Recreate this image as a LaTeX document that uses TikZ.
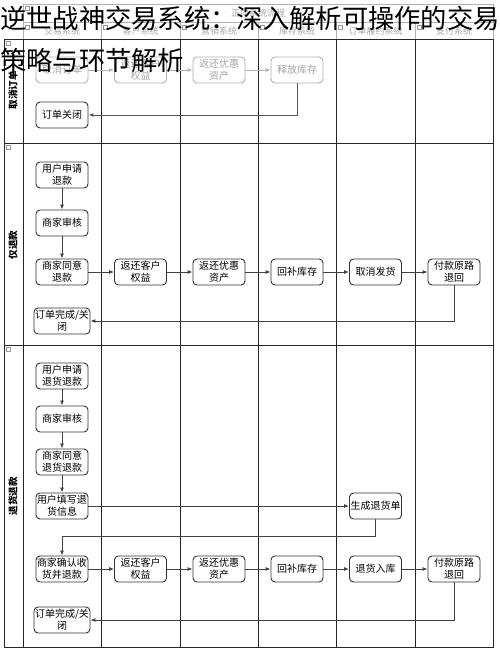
\documentclass[tikz,border=0pt]{standalone}
\usepackage{fontspec}
\setmainfont{Noto Sans CJK SC}
\usetikzlibrary{arrows.meta}
\begin{document}
\begin{tikzpicture}[x=1pt,y=-1pt,
  box/.style={draw=black!80, line width=0.9pt, rounded corners=4pt, minimum width=52pt, minimum height=26pt, align=center, font=\fontsize{10}{12}\selectfont, inner sep=1pt, fill=white},
  fbox/.style={box, draw=black!30, text=black!35},
  arr/.style={draw=black!75, line width=0.9pt, -{Latex[length=5pt,width=4pt]}},
  farr/.style={arr, draw=black!30},
  gridline/.style={draw=black!85, line width=0.9pt},
  fgrid/.style={draw=black!30, line width=0.8pt},
  lanelabel/.style={rotate=90, font=\fontsize{9.5}{11}\selectfont\bfseries},
  hdr/.style={font=\fontsize{9}{11}\selectfont, text=black!35},
  icon/.style={draw=black!40, line width=0.4pt, minimum size=4pt, inner sep=0pt}
]
\useasboundingbox (0,0) rectangle (500,654);
\fill[white] (0,0) rectangle (500,654);

% ---------- header (faded) ----------
\draw[fgrid] (23,4) rectangle (493,39);
\draw[fgrid] (23,22) -- (493,22);
\foreach \x in {101,180,258,336,415} \draw[fgrid] (\x,22) -- (\x,39);
\node[hdr] (hmain) at (258,13) {正向系统流程};
\node[hdr] (h1) at (62,31) {交易系统};
\node[hdr] (h2) at (140.5,31) {客户系统};
\node[hdr] (h3) at (219,31) {营销系统};
\node[hdr] (h4) at (297,31) {库存系统};
\node[hdr] (h5) at (375.5,31) {订单履约系统};
\node[hdr] (h6) at (454,31) {支付系统};
\foreach \x/\n in {27/a,105/b,184/c,262/d,340/e,419/f} \node[icon] (hi\n) at (\x,27) {};
\node[icon] (hi0) at (27,8) {};

% ---------- swimlane grid ----------
\draw[gridline] (4,39) rectangle (493,647);
\draw[gridline] (4,143) -- (493,143);
\draw[gridline] (4,345) -- (493,345);
\draw[gridline] (23,39) -- (23,647);
\foreach \x in {101,180,258,336,415} \draw[gridline] (\x,39) -- (\x,647);
\node[icon] (li1) at (8,43) {};
\node[icon] (li2) at (8,147) {};
\node[icon] (li3) at (8,349) {};

\node[lanelabel] (l1) at (13,90) {取消订单};
\node[lanelabel] (l2) at (13,245) {仅退款};
\node[lanelabel] (l3) at (13,496) {退货退款};

% ---------- lane 1 ----------
\node[fbox] (a1) at (62,70) {取消订单};
\node[fbox] (a2) at (140.5,70) {返还客户\\权益};
\node[fbox] (a3) at (219,70) {返还优惠\\资产};
\node[fbox] (a4) at (297,70) {释放库存};
\node[box]  (a5) at (62,115) {订单关闭};
\draw[farr] (a1) -- (a2);
\draw[farr] (a2) -- (a3);
\draw[farr] (a3) -- (a4);
\draw[arr, draw=black!65] (a4.south) |- (a5.east);

% ---------- lane 2 ----------
\node[box] (b1) at (62,175) {用户申请\\退款};
\node[box] (b2) at (62,223) {商家审核};
\node[box] (b3) at (62,272) {商家同意\\退款};
\node[box] (b4) at (62,321) {订单完成/关\\闭};
\node[box] (b5) at (140.5,272) {返还客户\\权益};
\node[box] (b6) at (219,272) {返还优惠\\资产};
\node[box] (b7) at (297,272) {回补库存};
\node[box] (b8) at (375.5,272) {取消发货};
\node[box] (b9) at (454,272) {付款原路\\退回};
\draw[arr] (b1) -- (b2);
\draw[arr] (b2) -- (b3);
\draw[arr] (b3) -- (b5);
\draw[arr] (b5) -- (b6);
\draw[arr] (b6) -- (b7);
\draw[arr] (b7) -- (b8);
\draw[arr] (b8) -- (b9);
\draw[arr] (b9.south) |- (b4.east);

% ---------- lane 3 ----------
\node[box] (c1) at (62,376) {用户申请\\退货退款};
\node[box] (c2) at (62,419) {商家审核};
\node[box] (c3) at (62,462) {商家同意\\退货退款};
\node[box] (c4) at (62,506) {用户填写退\\货信息};
\node[box] (c5) at (375.5,506) {生成退货单};
\node[box] (c6) at (62,569) {商家确认收\\货并退款};
\node[box] (c7) at (140.5,569) {返还客户\\权益};
\node[box] (c8) at (219,569) {返还优惠\\资产};
\node[box] (c9) at (297,569) {回补库存};
\node[box] (c10) at (375.5,569) {退货入库};
\node[box] (c11) at (454,569) {付款原路\\退回};
\node[box] (c12) at (62,620) {订单完成/关\\闭};
\coordinate (k1) at (375.5,536);
\coordinate (k2) at (62,536);
\draw[arr] (c1) -- (c2);
\draw[arr] (c2) -- (c3);
\draw[arr] (c3) -- (c4);
\draw[arr] (c4) -- (c5);
\draw[arr] (c5.south) -- (k1) -- (k2) -- (c6.north);
\draw[arr] (c6) -- (c7);
\draw[arr] (c7) -- (c8);
\draw[arr] (c8) -- (c9);
\draw[arr] (c9) -- (c10);
\draw[arr] (c10) -- (c11);
\draw[arr] (c11.south) |- (c12.east);

% ---------- overlaid title ----------
\node[anchor=west, inner sep=0pt, font=\fontsize{26.3}{30}\selectfont] (t1) at (0,18) {逆世战神交易系统：深入解析可操作的交易};
\node[anchor=west, inner sep=0pt, font=\fontsize{26.3}{30}\selectfont] (t2) at (0,60) {策略与环节解析};
\end{tikzpicture}
\end{document}
